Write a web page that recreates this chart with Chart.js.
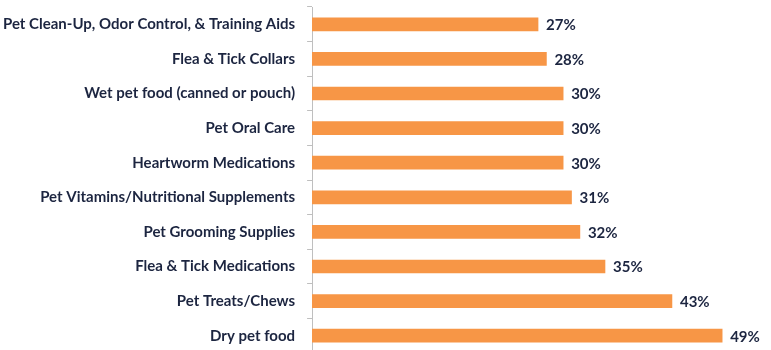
<!DOCTYPE html>
<html>
<head>
<meta charset="utf-8">
<script src="https://cdn.jsdelivr.net/npm/chart.js@4"></script>
<style>
  html, body { margin: 0; padding: 0; background: #fff; overflow: hidden; }
  #wrap { width: 783px; height: 388px; margin-top: -14px; margin-left: -12px; position: relative; }
</style>
</head>
<body>
<div id="wrap"><canvas id="chart"></canvas></div>
<script>
var categories = [
    'Pet Clean-Up, Odor Control, & Training Aids',
    'Flea & Tick Collars',
    'Wet pet food (canned or pouch)',
    'Pet Oral Care',
    'Heartworm Medications',
    'Pet Vitamins/Nutritional Supplements',
    'Pet Grooming Supplies',
    'Flea & Tick Medications',
    'Pet Treats/Chews',
    'Dry pet food'
];
var shares = [27, 28, 30, 30, 30, 31, 32, 35, 43, 49];

var textColor = '#1c2540';

// etiquetas de valor a la derecha de cada barra
var valueLabels = {
    id: 'valueLabels',
    afterDatasetsDraw: function(chart) {
        var ctx = chart.ctx;
        var meta = chart.getDatasetMeta(0);
        ctx.save();
        ctx.font = 'bold 15px Lato';
        ctx.fillStyle = textColor;
        ctx.textAlign = 'left';
        ctx.textBaseline = 'middle';
        meta.data.forEach(function(bar, i) {
            ctx.fillText(shares[i] + '%', bar.x + 8, bar.y + 1);
        });
        ctx.restore();
    }
};

var ctx = document.getElementById('chart').getContext('2d');
new Chart(ctx, {
    type: 'bar',
    data: {
        labels: categories,
        datasets: [{
            data: shares,
            backgroundColor: '#F79646',
            barThickness: 13
        }]
    },
    options: {
        indexAxis: 'y',
        responsive: true,
        maintainAspectRatio: false,
        animation: false,
        layout: { padding: { top: 0, right: 7, bottom: 0, left: 3 } },
        plugins: {
            legend: { display: false },
            tooltip: { enabled: false }
        },
        scales: {
            x: {
                display: false,
                min: 0,
                max: 54
            },
            y: {
                grid: {
                    offset: true,
                    drawOnChartArea: false,
                    tickLength: 5,
                    color: '#bfbfbf'
                },
                border: { color: '#bfbfbf', width: 1 },
                ticks: {
                    color: textColor,
                    font: { family: 'Lato', weight: 'bold', size: 15 },
                    padding: 12
                }
            }
        }
    },
    plugins: [valueLabels]
});
</script>
</body>
</html>
